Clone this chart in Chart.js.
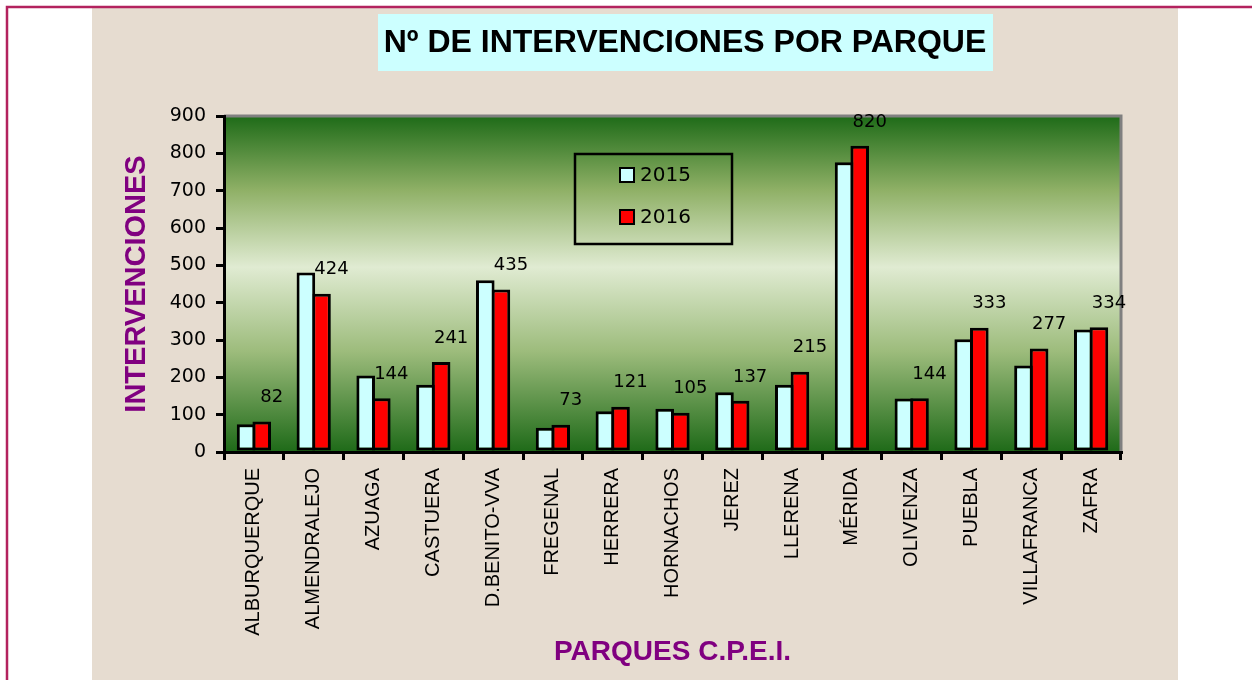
<!DOCTYPE html>
<html>
<head>
<meta charset="utf-8">
<script src="https://cdn.jsdelivr.net/npm/chart.js@4.4.0/dist/chart.umd.min.js"></script>
<style>
  html, body { margin: 0; padding: 0; background: #fff; }
  #wrap { width: 1252px; height: 680px; position: relative; }
</style>
</head>
<body>
<div id="wrap"><canvas id="parques_chart"></canvas></div>
<script>
// datos
const parques = ['ALBURQUERQUE', 'ALMENDRALEJO', 'AZUAGA', 'CASTUERA', 'D.BENITO-VVA', 'FREGENAL', 'HERRERA',
  'HORNACHOS', 'JEREZ', 'LLERENA', 'MÉRIDA', 'OLIVENZA', 'PUEBLA', 'VILLAFRANCA', 'ZAFRA'];
const valores2015 = [74, 481, 205, 180, 460, 65, 109, 116, 160, 180, 776, 143, 302, 232, 328];
const valores2016 = [82, 424, 144, 241, 435, 73, 121, 105, 137, 215, 820, 144, 333, 277, 334];
const anios = ['2015', '2016'];
const yMin = 0, yMax = 900, yPaso = 100;
const titulo = 'Nº DE INTERVENCIONES POR PARQUE';
const tituloY = 'INTERVENCIONES';
const tituloX = 'PARQUES C.P.E.I.';

const fondo = {
  id: 'fondo',
  beforeDraw(chart) {
    const { ctx, chartArea: a } = chart;
    ctx.save();
    ctx.fillStyle = '#fff';
    ctx.fillRect(0, 0, chart.width, chart.height);
    ctx.fillStyle = '#E6DCD0';
    ctx.fillRect(92, 8, 1086, 672);
    ctx.strokeStyle = '#B3225E';
    ctx.lineWidth = 2.5;
    ctx.beginPath();
    ctx.moveTo(7, 680); ctx.lineTo(7, 7); ctx.lineTo(1252, 7);
    ctx.stroke();

    // caja del titulo
    ctx.fillStyle = '#CCFFFF';
    ctx.fillRect(378, 14, 615, 57);
    ctx.fillStyle = '#000';
    ctx.font = 'bold 32px "Liberation Sans", Arial, sans-serif';
    ctx.textAlign = 'center';
    ctx.textBaseline = 'middle';
    ctx.fillText(titulo, 685, 43);

    // degradado verde del area
    const g = ctx.createLinearGradient(0, a.top, 0, a.bottom);
    g.addColorStop(0, '#1E6B18');
    g.addColorStop(0.22, '#8FB066');
    g.addColorStop(0.45, '#E0EBD2');
    g.addColorStop(0.7, '#9DBC7C');
    g.addColorStop(1, '#1E6A18');
    ctx.fillStyle = g;
    ctx.fillRect(a.left, a.top, a.width, a.height);
    ctx.strokeStyle = '#808080';
    ctx.lineWidth = 3;
    ctx.beginPath();
    ctx.moveTo(a.left, a.top); ctx.lineTo(a.right, a.top); ctx.lineTo(a.right, a.bottom);
    ctx.stroke();
    ctx.restore();
  }
};

const etiquetas = {
  id: 'etiquetas',
  afterDatasetsDraw(chart) {
    const ctx = chart.ctx;
    const meta = chart.getDatasetMeta(1);
    const data = chart.data.datasets[1].data;
    ctx.save();
    ctx.fillStyle = '#000';
    ctx.font = '18px "DejaVu Sans", sans-serif';
    ctx.textAlign = 'center';
    ctx.textBaseline = 'middle';
    meta.data.forEach((bar, i) => {
      ctx.fillText(String(data[i]), bar.x + 10, bar.y - 24);
    });
    ctx.restore();
  }
};

const leyenda = {
  id: 'leyenda',
  afterDatasetsDraw(chart) {
    const ctx = chart.ctx;
    ctx.save();
    ctx.strokeStyle = '#000';
    ctx.lineWidth = 2.5;
    ctx.strokeRect(575, 154, 157, 90);
    ctx.font = '20px "DejaVu Sans", sans-serif';
    ctx.textAlign = 'left';
    ctx.textBaseline = 'middle';
    chart.data.datasets.forEach((ds, i) => {
      const y = 175 + i * 42;
      ctx.fillStyle = ds.backgroundColor;
      ctx.fillRect(620, y - 7, 14, 14);
      ctx.lineWidth = 2;
      ctx.strokeRect(620, y - 7, 14, 14);
      ctx.fillStyle = '#000';
      ctx.fillText(ds.label, 640, y + 1);
    });
    ctx.restore();
  }
};

const ctx = document.getElementById('parques_chart').getContext('2d');
const myChart = new Chart(ctx, {
  type: 'bar',
  data: {
    labels: parques,
    datasets: [{
      label: anios[0],
      data: valores2015,
      backgroundColor: '#CCFFFF',
      borderColor: '#000',
      borderWidth: 3,
      borderSkipped: false,
      categoryPercentage: 0.523,
      barPercentage: 1.19,
    }, {
      label: anios[1],
      data: valores2016,
      backgroundColor: '#FF0000',
      borderColor: '#000',
      borderWidth: 3,
      borderSkipped: false,
      categoryPercentage: 0.523,
      barPercentage: 1.19,
    }]
  },
  options: {
    responsive: true,
    maintainAspectRatio: false,
    animation: false,
    devicePixelRatio: 1,
    layout: { padding: { left: 100, top: 116, right: 131, bottom: 8 } },
    plugins: {
      legend: { display: false },
      title: { display: false },
      tooltip: { enabled: false },
    },
    scales: {
      x: {
        afterFit: (scale) => { scale.height = 220; },
        grid: { drawOnChartArea: false, drawTicks: true, tickLength: 8, color: '#000', lineWidth: 3, offset: true },
        border: { display: true, color: '#000', width: 3 },
        ticks: {
          autoSkip: false,
          minRotation: 90,
          maxRotation: 90,
          padding: 8,
          color: '#000',
          font: { family: '"Liberation Sans", Arial, sans-serif', size: 20 },
        },
        title: {
          display: true,
          text: tituloX,
          color: '#800080',
          padding: { top: 0, bottom: 3 },
          font: { family: '"Liberation Sans", Arial, sans-serif', size: 28, weight: 'bold' },
        },
      },
      y: {
        min: yMin,
        max: yMax,
        afterFit: (scale) => { scale.width = 124; },
        grid: { drawOnChartArea: false, drawTicks: true, tickLength: 8, color: '#000', lineWidth: 3 },
        border: { display: true, color: '#000', width: 3 },
        ticks: {
          stepSize: yPaso,
          padding: 10,
          color: '#000',
          font: { family: '"DejaVu Sans", sans-serif', size: 19 },
        },
        title: {
          display: true,
          text: tituloY,
          color: '#800080',
          padding: { top: 20, bottom: 0 },
          font: { family: '"Liberation Sans", Arial, sans-serif', size: 29, weight: 'bold' },
        },
      },
    },
  },
  plugins: [fondo, etiquetas, leyenda],
});
</script>
</body>
</html>
